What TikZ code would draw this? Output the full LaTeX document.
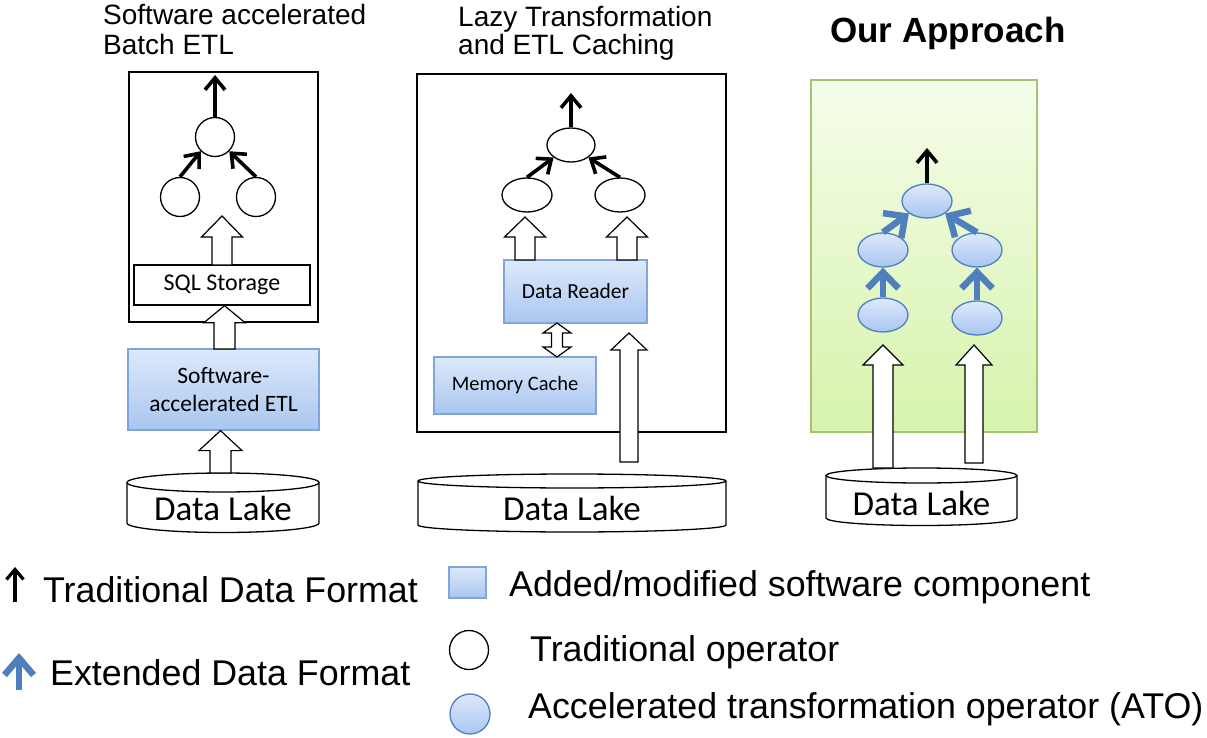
\documentclass[tikz,border=0pt]{standalone}
\usepackage{fontspec}
\setmainfont{Liberation Sans}
\newfontfamily\calfont{Carlito}
\usetikzlibrary{arrows.meta,shapes.geometric,calc}
\definecolor{boxblueT}{HTML}{DDE9FB}
\definecolor{boxblueB}{HTML}{A9C6F0}
\definecolor{boxblueD}{HTML}{7FA5DA}
\definecolor{atoD}{HTML}{4F7FBE}
\definecolor{arrblue}{HTML}{4F80BD}
\definecolor{greenT}{HTML}{F5FDEA}
\definecolor{greenB}{HTML}{D7F3AC}
\definecolor{greenD}{HTML}{A3C46E}
\tikzset{
 plainbox/.style={draw=black, line width=1.3pt, fill=white, inner sep=0},
 swbox/.style={draw=boxblueD, line width=1.2pt, top color=boxblueT, bottom color=boxblueB, font=\calfont, align=center, inner sep=0},
 trop/.style={circle, draw=black, line width=1.3pt, fill=white, minimum size=39pt, inner sep=0},
 troe/.style={ellipse, draw=black, line width=1.3pt, fill=white, minimum width=49pt, minimum height=34pt, inner sep=0},
 ato/.style={ellipse, draw=atoD, line width=1.3pt, top color=boxblueT, bottom color=boxblueB, minimum width=50pt, minimum height=34pt, inner sep=0},
 blackarr/.style={draw=black, line width=3.6pt, -{Straight Barb[length=12pt,width=20pt]}},
 bluearr/.style={draw=arrblue, line width=6.5pt, -{Straight Barb[length=16pt,width=31pt]}},
 barrow/.style={draw=black, line width=1.2pt, fill=white, line join=miter},
 titletext/.style={font=\fontsize{28}{30}\selectfont, anchor=base west, inner sep=0},
 legtext/.style={font=\fontsize{35.8}{38}\selectfont, anchor=base west, inner sep=0},
 dltext/.style={font=\calfont\fontsize{35}{38}\selectfont, anchor=base, inner sep=0},
}
% block arrow: #1 foot, #2 tip, #3 shaft half width, #4 head half width, #5 head length
\newcommand\blockarr[5]{%
 \draw[barrow] let \p1=(#1), \p2=(#2) in
 (\x1-#3pt,\y1) -- (\x1-#3pt,\y2-#5pt) -- (\x1-#4pt,\y2-#5pt) -- (\x1,\y2)
 -- (\x1+#4pt,\y2-#5pt) -- (\x1+#3pt,\y2-#5pt) -- (\x1+#3pt,\y1) -- cycle;}
% cylinder: #1 name, #2 cx, #3 rx, #4 top cy, #5 ry, #6 bottom cy, #7 text baseline
\newcommand\datalake[7]{%
 \draw[plainbox] ({#2-#3},#4) -- ({#2-#3},#6)
   .. controls ({#2-#3},{#6+0.5523*#5}) and ({#2-0.5523*#3},{#6+#5}) .. (#2,{#6+#5})
   .. controls ({#2+0.5523*#3},{#6+#5}) and ({#2+#3},{#6+0.5523*#5}) .. ({#2+#3},#6)
   -- ({#2+#3},#4);
 \draw[plainbox] (#2,#4) ellipse [x radius=#3, y radius=#5];
 \node[dltext] (#1) at (#2,#7) {Data Lake};}
\begin{document}
\begin{tikzpicture}[x=1pt,y=-1pt]
\useasboundingbox (0,0) rectangle (1207,738);
\fill[white] (0,0) rectangle (1207,738);

% ---------------- Panel 1 ----------------
\node[titletext] (t1a) at (103,25) {Software accelerated};
\node[titletext] (t1b) at (103,55) {Batch ETL};
\node[plainbox, minimum width=189pt, minimum height=250pt] (box1) at (223.5,197) {};
\node[trop] (c1t) at (215,137) {};
\node[trop] (c1l) at (180,197) {};
\node[trop] (c1r) at (256,197) {};
\coordinate (o1) at (215,75);
\draw[blackarr] (c1t.north) -- (o1);
\draw[blackarr] (c1l.north) -- (c1t.south west);
\draw[blackarr] (c1r.north) -- (c1t.south east);
\node[plainbox, minimum width=176pt, minimum height=40pt, font=\calfont\fontsize{24}{26}\selectfont] (sql) at (222,285) {SQL Storage};
\node[swbox, minimum width=191pt, minimum height=81pt, font=\calfont\fontsize{23.5}{28}\selectfont] (etl) at (223.5,389.5) {Software-\\accelerated ETL};
\datalake{dl1}{223}{96}{482.5}{9.5}{523}{520}
\coordinate (f1a) at (222,265); \coordinate (p1a) at (222,216);
\blockarr{f1a}{p1a}{10}{20.5}{21}
\coordinate (f1b) at (224.5,349);
\blockarr{f1b}{sql.south}{10.5}{20.5}{17}
\coordinate (f1c) at (220.5,473);
\blockarr{f1c}{etl.south}{10.5}{21.5}{20}

% ---------------- Panel 2 ----------------
\node[titletext] (t2a) at (458,27) {Lazy Transformation};
\node[titletext] (t2b) at (458,55) {and ETL Caching};
\node[plainbox, minimum width=309pt, minimum height=358pt] (box2) at (571.5,253) {};
\node[troe, minimum width=48pt] (e2t) at (571,145) {};
\node[troe, minimum width=50pt] (e2l) at (527,195) {};
\node[troe, minimum width=50pt] (e2r) at (620,195) {};
\coordinate (o2) at (571,93);
\draw[blackarr] (e2t.north) -- (o2);
\draw[blackarr] (e2l.north) -- (e2t.south west);
\draw[blackarr] (e2r.north) -- (e2t.south east);
\node[swbox, minimum width=143pt, minimum height=63pt, font=\calfont\fontsize{21.5}{24}\selectfont] (dr) at (575.5,291.5) {Data Reader};
\node[swbox, minimum width=162pt, minimum height=57pt, font=\calfont\fontsize{20.5}{24}\selectfont] (mc) at (515,385.5) {Memory Cache};
\datalake{dl2}{572}{154}{481}{7}{525}{520}
\coordinate (f2a) at (525,260); \coordinate (p2a) at (525,217);
\blockarr{f2a}{p2a}{10}{20.5}{20}
\coordinate (f2b) at (627,260); \coordinate (p2b) at (627,217);
\blockarr{f2b}{p2b}{10}{20.5}{20}
\coordinate (f2c) at (629,462); \coordinate (p2c) at (629,333);
\blockarr{f2c}{p2c}{9}{18}{17}
\coordinate (d2a) at (557,323); \coordinate (d2b) at (557,357);
\draw[barrow] let \p1=(d2a), \p2=(d2b) in
 (\x1,\y1) -- (\x1+14pt,\y1-10pt) -- (\x1+5.5pt,\y1-10pt) -- (\x1+5.5pt,\y2+10pt)
 -- (\x1+14pt,\y2+10pt) -- (\x1,\y2) -- (\x1-14pt,\y2+10pt) -- (\x1-5.5pt,\y2+10pt)
 -- (\x1-5.5pt,\y1-10pt) -- (\x1-14pt,\y1-10pt) -- cycle;

% ---------------- Panel 3 ----------------
\node[font=\bfseries\fontsize{35}{38}\selectfont, anchor=base west, inner sep=0] (t3) at (830,43) {Our Approach};
\node[draw=greenD, line width=1.3pt, top color=greenT, bottom color=greenB, minimum width=226pt, minimum height=352pt, inner sep=0] (box3) at (924,256) {};
\node[ato] (a3t) at (927,201) {};
\node[ato] (a3l) at (883,250) {};
\node[ato] (a3r) at (977,250) {};
\node[ato] (a3bl) at (883,315) {};
\node[ato] (a3br) at (977,318) {};
\coordinate (o3) at (927,148);
\draw[blackarr] (a3t.north) -- (o3);
\draw[bluearr] (a3l.north) -- (a3t.south west);
\draw[bluearr] (a3r.north) -- (a3t.south east);
\draw[bluearr] (a3bl.north) -- (a3l.south);
\draw[bluearr] (a3br.north) -- (a3r.south);
\datalake{dl3}{921.5}{95.5}{475.5}{7.5}{518}{515}
\coordinate (f3a) at (883,468); \coordinate (p3a) at (883,345);
\blockarr{f3a}{p3a}{10}{20}{20}
\coordinate (f3b) at (974,463); \coordinate (p3b) at (974,345);
\blockarr{f3b}{p3b}{9}{18}{20}

% ---------------- Legend ----------------
\coordinate (l1a) at (15,602); \coordinate (l1b) at (15,567);
\draw[draw=black, line width=3.2pt, -{Straight Barb[length=10pt,width=17pt]}] (l1a) -- (l1b);
\node[legtext] (lt1) at (43,602) {Traditional Data Format};
\coordinate (l2a) at (19,690); \coordinate (l2b) at (19,653);
\draw[draw=arrblue, line width=6.5pt, -{Straight Barb[length=17pt,width=29pt]}] (l2a) -- (l2b);
\node[legtext] (lt2) at (50,685) {Extended Data Format};
\node[swbox, minimum width=37pt, minimum height=31pt] (lsq) at (467.5,582.5) {};
\node[legtext] (lt3) at (509,596) {Added/modified software component};
\node[trop, minimum size=39pt] (lc1) at (469,650) {};
\node[legtext] (lt4) at (530,661) {Traditional operator};
\node[ato, circle, minimum size=40pt] (lc2) at (470,714) {};
\node[legtext] (lt5) at (528,718) {Accelerated transformation operator (ATO)};
\end{tikzpicture}
\end{document}
